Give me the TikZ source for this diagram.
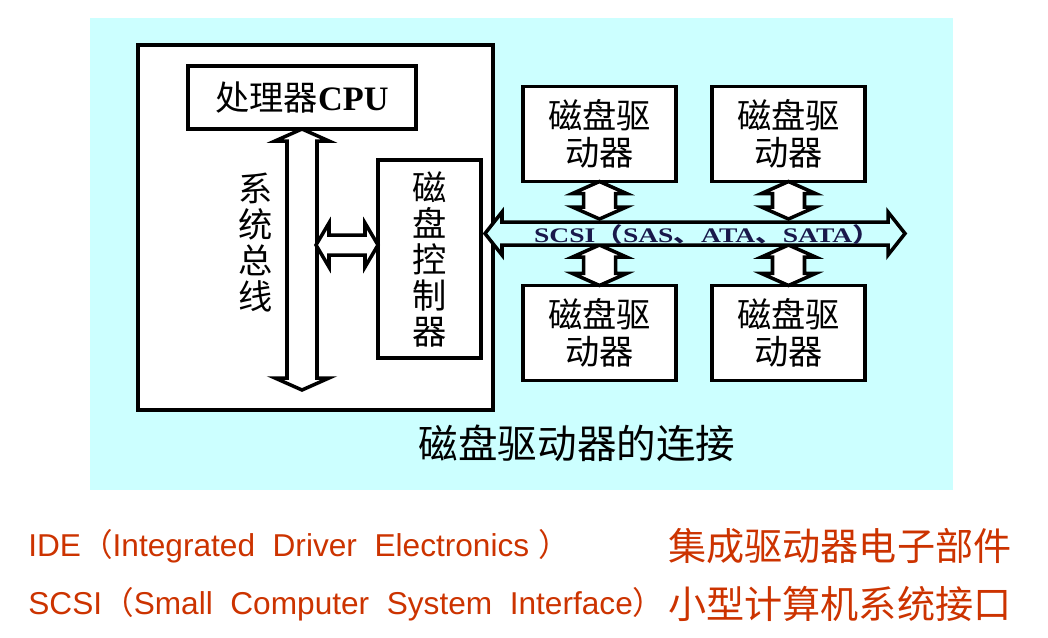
\documentclass[tikz,border=0pt]{standalone}
\usepackage{fontspec}
\setmainfont{Liberation Serif}
\newfontfamily\cjk{Noto Sans CJK SC}
\newfontfamily\arialf{Liberation Sans}
\usetikzlibrary{calc,positioning}

\definecolor{panelcyan}{RGB}{204,255,255}
\definecolor{scsinavy}{RGB}{25,25,75}
\definecolor{noteorange}{RGB}{204,51,0}

\tikzset{
  box/.style={draw, line width=1.8pt, fill=white, inner sep=0pt, outer sep=0pt},
  drivebox/.style={box, zh, minimum width=153*0.02cm, minimum height=95*0.02cm,
                   font=\cjk\fontsize{19.5}{21}\selectfont},
  linkarrow/.style={draw, fill=white, line width=2pt, line join=miter},
  zh/.style={font=\cjk\fontsize{19.5}{20.5}\selectfont, align=center},
  note/.style={anchor=west, text=noteorange, inner sep=0pt},
}

% vertical double arrow: top tip, bottom tip, shaft half, head half, head depth
\newcommand{\vlinkarrow}[6][]{%
  \draw[linkarrow,#1] (#2) -- ($(#2)+(#5,#6)$) -- ($(#2)+(#4,#6)$)
    -- ($(#3)+(#4,-#6)$) -- ($(#3)+(#5,-#6)$) -- (#3)
    -- ($(#3)+(-#5,-#6)$) -- ($(#3)+(-#4,-#6)$)
    -- ($(#2)+(-#4,#6)$) -- ($(#2)+(-#5,#6)$) -- cycle;}
% horizontal double arrow: left tip, right tip, shaft half, head half, head depth
\newcommand{\hlinkarrow}[6][]{%
  \draw[linkarrow,#1] (#2) -- ($(#2)+(#6,-#5)$) -- ($(#2)+(#6,-#4)$)
    -- ($(#3)+(-#6,-#4)$) -- ($(#3)+(-#6,-#5)$) -- (#3)
    -- ($(#3)+(-#6,#5)$) -- ($(#3)+(-#6,#4)$)
    -- ($(#2)+(#6,#4)$) -- ($(#2)+(#6,#5)$) -- cycle;}

\begin{document}
\begin{tikzpicture}[x=0.02cm, y=-0.02cm]

\useasboundingbox (0,0) rectangle (1048,637);

% ============================
% PANEL
% ============================

% Background
\fill[panelcyan] (90,18) rectangle (953,490);

% Host frame
\node[box, minimum width=355*0.02cm, minimum height=365*0.02cm] (host) at (315.5,227.5) {};

% CPU
\node[box, minimum width=228*0.02cm, minimum height=63*0.02cm,
      font=\fontsize{19.5}{20.5}\selectfont] (cpu) at (302,97.5)
  {{\cjk 处理器}\textbf{CPU}};

% Disk controller
\node[box, zh, minimum width=103*0.02cm, minimum height=198*0.02cm] (ctrl) at (429.5,259)
  {磁\\盘\\控\\制\\器};

% System bus label
\node[zh] (buslabel) at (256,242.5) {系\\统\\总\\线};

% Drives
\node[drivebox] (d1) at (599.5,134) {磁盘驱\\动器};
\node[drivebox, right=0.72cm of d1] (d2) {磁盘驱\\动器};
\node[drivebox, below=2.08cm of d1] (d3) {磁盘驱\\动器};
\node[drivebox, right=0.72cm of d3] (d4) {磁盘驱\\动器};

% ============================
% LINKS
% ============================

% System bus
\coordinate (busend) at (302,390);
\vlinkarrow{cpu.south}{busend}{15}{27}{12}

% Bus <-> controller
\coordinate (ctrlL) at (316,245);
\coordinate (ctrlR) at (ctrl.west |- ctrlL);
\hlinkarrow{ctrlL}{ctrlR}{10}{22}{13}

% Drive links (above and below the SCSI bus)
\coordinate (d1bus) at (d1.south |- 0,219);
\coordinate (d2bus) at (d2.south |- 0,219);
\coordinate (d3bus) at (d3.north |- 0,245);
\coordinate (d4bus) at (d4.north |- 0,245);
\vlinkarrow{d1.south}{d1bus}{16}{27}{12}
\vlinkarrow{d2.south}{d2bus}{16}{27}{12}
\vlinkarrow{d3bus}{d3.north}{16}{27}{12}
\vlinkarrow{d4bus}{d4.north}{16}{27}{12}

% SCSI bus
\coordinate (scsiL) at (485,233.5);
\coordinate (scsiR) at (905,233.5);
\hlinkarrow[fill=panelcyan]{scsiL}{scsiR}{11.5}{21.5}{17}
\node[text=scsinavy, font=\bfseries\fontsize{11.8}{12}\selectfont, inner sep=0pt, xscale=1.33] (scsi) at (707,234.5)
  {SCSI{\cjk （}SAS{\cjk 、}ATA{\cjk 、}SATA{\cjk ）}};

% Caption
\node[font=\cjk\fontsize{22.5}{24}\selectfont] (caption) at (577,443) {磁盘驱动器的连接};

% ============================
% NOTES
% ============================

\node[note, font=\arialf\fontsize{18}{19}\selectfont]
  (ide) at (28,546) {IDE{\cjk （}Integrated\ \ Driver\ \ Electronics\ {\cjk ）}};
\node[note, font=\cjk\fontsize{21.7}{23}\selectfont]
  (idezh) at (668,546) {集成驱动器电子部件};
\node[note, font=\arialf\fontsize{18}{19}\selectfont]
  (scsien) at (28,604) {SCSI{\cjk （}Small\ \ Computer\ \ System\ \ Interface{\cjk ）}};
\node[note, font=\cjk\fontsize{21.7}{23}\selectfont]
  (scsizh) at (668,604) {小型计算机系统接口};

\end{tikzpicture}
\end{document}
